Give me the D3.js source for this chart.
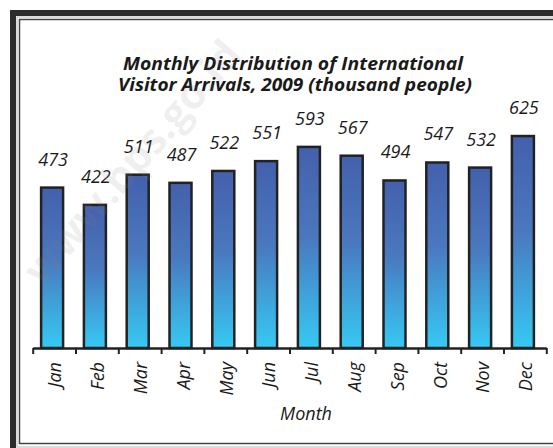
<!DOCTYPE html>
<html>
<head>
<meta charset="utf-8">
<script src="https://cdn.jsdelivr.net/npm/d3@7"></script>
<style>
  body { margin: 0; background: #fff; }
  text { font-family: "Open Sans", sans-serif; }
</style>
</head>
<body>
<div id="wrap"></div>
<script>
// data
var months = ["Jan","Feb","Mar","Apr","May","Jun","Jul","Aug","Sep","Oct","Nov","Dec"];
var arrivals = [473, 422, 511, 487, 522, 551, 593, 567, 494, 547, 532, 625];
var titleLines = ["Monthly Distribution of International", "Visitor Arrivals, 2009 (thousand people)"];
var xTitle = "Month";

var text_color = "#1a1a1a";
var bar_stroke = "#222";

var svg = d3.select("#wrap")
  .append("svg")
  .attr("width", 553)
  .attr("height", 448);

// gradient for the bars (same on every bar, top to bottom)
var grad = svg.append("defs").append("linearGradient")
  .attr("id", "barGrad")
  .attr("x1", 0).attr("y1", 0).attr("x2", 0).attr("y2", 1);
grad.append("stop").attr("offset", "0%").attr("stop-color", "#4460ad");
grad.append("stop").attr("offset", "45%").attr("stop-color", "#4a78bf");
grad.append("stop").attr("offset", "100%").attr("stop-color", "#36c9f3");

// frame
svg.append("rect")
  .attr("x", 13).attr("y", 13)
  .attr("width", 620).attr("height", 620)
  .attr("fill", "none")
  .attr("stroke", "#2c2c2c")
  .attr("stroke-width", 6);
svg.append("rect")
  .attr("x", 17).attr("y", 17)
  .attr("width", 620).attr("height", 430)
  .attr("fill", "none")
  .attr("stroke", "#b8b8b8")
  .attr("stroke-width", 1);
svg.append("rect")
  .attr("x", 19.5).attr("y", 19.5)
  .attr("width", 620).attr("height", 424)
  .attr("fill", "none")
  .attr("stroke", "#444")
  .attr("stroke-width", 1.5);

// scales
var x = d3.scaleBand()
  .domain(months)
  .range([32.7, 546.3]);

var xTicks = d3.scaleLinear()
  .domain([0, months.length])
  .range([32.7, 546.3]);

var y = d3.scaleLinear()
  .domain([0, 700])
  .range([348, 110.6]);

var barW = 22;

// bars
svg.append("g")
  .selectAll("rect")
  .data(arrivals)
  .join("rect")
  .attr("x", function (d, i) { return x(months[i]) + x.bandwidth() / 2 - barW / 2 - 2; })
  .attr("y", function (d) { return y(d); })
  .attr("width", barW)
  .attr("height", function (d) { return y(0) - y(d); })
  .attr("fill", "url(#barGrad)")
  .attr("stroke", bar_stroke)
  .attr("stroke-width", 2.5);

// value labels
svg.append("g")
  .selectAll("text")
  .data(arrivals)
  .join("text")
  .attr("x", function (d, i) { return x(months[i]) + x.bandwidth() / 2 - 1; })
  .attr("y", function (d) { return y(d) - 22; })
  .attr("text-anchor", "middle")
  .attr("font-size", "18px")
  .attr("font-style", "italic")
  .attr("fill", text_color)
  .text(function (d) { return d; });

// x axis (ticks at band edges)
var axis = svg.append("g")
  .attr("transform", "translate(0,348)")
  .call(d3.axisBottom(xTicks).ticks(12).tickFormat("").tickSize(6).tickSizeOuter(0));
axis.select(".domain").attr("stroke", bar_stroke).attr("stroke-width", 2.5);
axis.selectAll(".tick line").attr("stroke", bar_stroke).attr("stroke-width", 2);

// month labels
svg.append("g")
  .selectAll("text")
  .data(months)
  .join("text")
  .attr("transform", function (d) {
    return "translate(" + (x(d) + x.bandwidth() / 2 + 1) + ",362) rotate(-90)";
  })
  .attr("text-anchor", "end")
  .attr("dy", "0.35em")
  .attr("font-size", "18px")
  .attr("font-style", "italic")
  .attr("fill", text_color)
  .text(function (d) { return d; });

// axis title
svg.append("text")
  .attr("x", 306)
  .attr("y", 420)
  .attr("text-anchor", "middle")
  .attr("font-size", "18px")
  .attr("font-style", "italic")
  .attr("fill", text_color)
  .text(xTitle);

// chart title
var titleLen = [340, 354];
svg.append("g")
  .selectAll("text")
  .data(titleLines)
  .join("text")
  .attr("x", function (d, i) { return i == 0 ? 293 : 295; })
  .attr("y", function (d, i) { return 70 + i * 21; })
  .attr("text-anchor", "middle")
  .attr("font-size", "17px")
  .attr("font-weight", "bold")
  .attr("font-style", "italic")
  .attr("fill", text_color)
  .attr("textLength", function (d, i) { return titleLen[i]; })
  .attr("lengthAdjust", "spacingAndGlyphs")
  .text(function (d) { return d; });

// watermark
svg.append("text")
  .attr("transform", "translate(132,162) rotate(-49)")
  .attr("text-anchor", "middle")
  .attr("dy", "0.35em")
  .attr("font-size", "42px")
  .attr("font-weight", "bold")
  .attr("fill", "#808080")
  .attr("fill-opacity", 0.12)
  .text("www.bps.go.id");
</script>
</body>
</html>
